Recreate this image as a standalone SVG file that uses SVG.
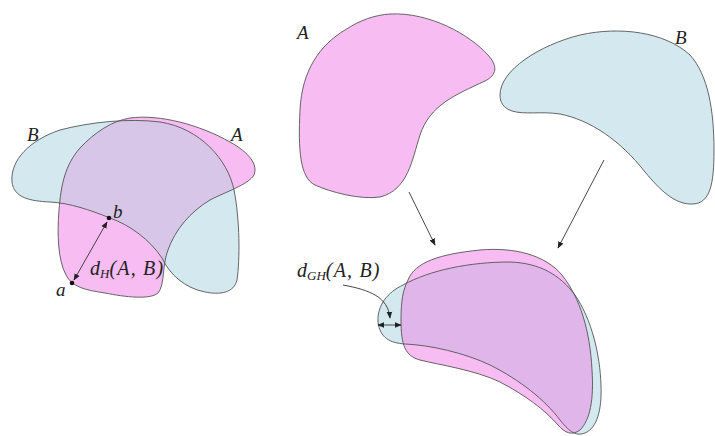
<svg xmlns="http://www.w3.org/2000/svg" width="715" height="436" viewBox="0 0 715 436">
<style>
.sh{stroke:#555;stroke-width:0.9;}
.pk{fill:#f7bdf2;}
.bl{fill:#d3e8ef;}
.lbl{font-family:"Liberation Serif","DejaVu Serif",serif;font-style:italic;font-size:19px;fill:#222;}
.math{font-size:20px;}
.sub{font-size:13px;}
.cn{fill:none;stroke:#333;stroke-width:0.9;}
</style>
<defs>
<marker id="ah" viewBox="0 0 10 10" refX="9" refY="5" markerWidth="7" markerHeight="7" orient="auto-start-reverse" markerUnits="userSpaceOnUse">
<path d="M0,1 L10,5 L0,9 Z" fill="#222"/>
</marker>
<path id="Bl" d="M12,182 C10,160 30,140 60,130 C90,122 130,118 160,122 C200,128 228,160 234,190 C240,220 240,260 237,280 C234,293 220,295 205,292 C185,288 170,275 162,258 C150,240 130,225 110,218 C90,210 70,203 50,202 C30,201 14,198 12,182 Z"/>
<path id="Al" d="M130,118 C160,114 200,125 230,142 C250,153 258,165 254,175 C248,185 225,192 210,200 C190,212 175,230 168,250 C162,265 165,285 158,293 C150,300 125,297 105,293 C85,290 72,287 66,275 C58,260 57,235 59,210 C61,185 65,165 80,148 C95,132 112,121 130,118 Z"/>
<path id="Bb" d="M403,285 C430,270 470,262 510,262 C540,263 560,275 575,295 C592,320 600,355 601,385 C602,410 597,428 585,433 C575,437 568,430 560,420 C545,400 520,380 490,365 C465,353 430,345 405,344 C390,343 380,338 378,322 C377,305 388,292 403,285 Z"/>
<path id="Ab" d="M408,280 C415,262 440,254 480,250 C515,247 545,255 562,275 C580,298 590,330 592,370 C594,400 590,420 580,430 C572,436 565,433 558,425 C545,410 525,395 500,382 C475,370 440,365 420,360 C405,356 401,345 401,320 C401,300 403,290 408,280 Z"/>
<clipPath id="clipAl"><use href="#Al"/></clipPath>
<clipPath id="clipAb"><use href="#Ab"/></clipPath>
</defs>

<g id="left-figure">
<use href="#Bl" class="bl"/>
<use href="#Al" class="pk"/>
<use href="#Bl" fill="#d7c6e7" clip-path="url(#clipAl)"/>
<use href="#Bl" class="sh" fill="none"/>
<use href="#Al" class="sh" fill="none"/>
<text class="lbl" x="27" y="141">B</text>
<text class="lbl" x="231" y="141">A</text>
<circle cx="109" cy="218" r="2.3" fill="#111"/>
<circle cx="72" cy="283" r="2.3" fill="#111"/>
<text class="lbl" x="113" y="218" font-size="18">b</text>
<text class="lbl" x="56" y="296" font-size="18">a</text>
<text class="lbl math" x="90" y="275">d<tspan class="sub" dy="3">H</tspan><tspan dy="-3" letter-spacing="1.2">(A, B)</tspan></text>
</g>

<g id="A-top">
<path class="pk sh" d="M390,14 C430,12 470,35 488,55 C498,66 497,75 485,81 C455,95 430,105 420,135 C412,160 408,190 380,197 C360,200 330,192 315,185 C300,178 298,150 300,110 C302,70 320,45 345,30 C360,20 375,15 390,14 Z"/>
<text class="lbl" x="297" y="39">A</text>
</g>

<g id="B-top">
<path class="bl sh" d="M500,95 C500,70 540,45 580,35 C620,26 665,32 690,55 C708,75 714,110 714,150 C714,185 710,203 693,204 C675,205 660,190 645,172 C620,140 590,120 560,114 C540,111 525,115 512,111 C503,108 500,102 500,95 Z"/>
<text class="lbl" x="675" y="44">B</text>
</g>

<g id="overlay">
<use href="#Bb" class="bl"/>
<use href="#Ab" class="pk"/>
<use href="#Bb" fill="#e0b5e9" clip-path="url(#clipAb)"/>
<use href="#Bb" class="sh" fill="none"/>
<use href="#Ab" class="sh" fill="none"/>
<text class="lbl math" x="297" y="277">d<tspan class="sub" dy="3">GH</tspan><tspan dy="-3" letter-spacing="1.2">(A, B)</tspan></text>
</g>

<g id="connectors">
<line class="cn" x1="409" y1="192" x2="435" y2="245" marker-end="url(#ah)"/>
<line class="cn" x1="604" y1="160" x2="558" y2="248" marker-end="url(#ah)"/>
<line class="cn" x1="107" y1="222" x2="74" y2="280" marker-start="url(#ah)" marker-end="url(#ah)"/>
<path class="cn" d="M343,285 C370,290 388,297 390,318" marker-end="url(#ah)"/>
<line class="cn" x1="378" y1="325" x2="401" y2="325" marker-start="url(#ah)" marker-end="url(#ah)"/>
</g>
</svg>
